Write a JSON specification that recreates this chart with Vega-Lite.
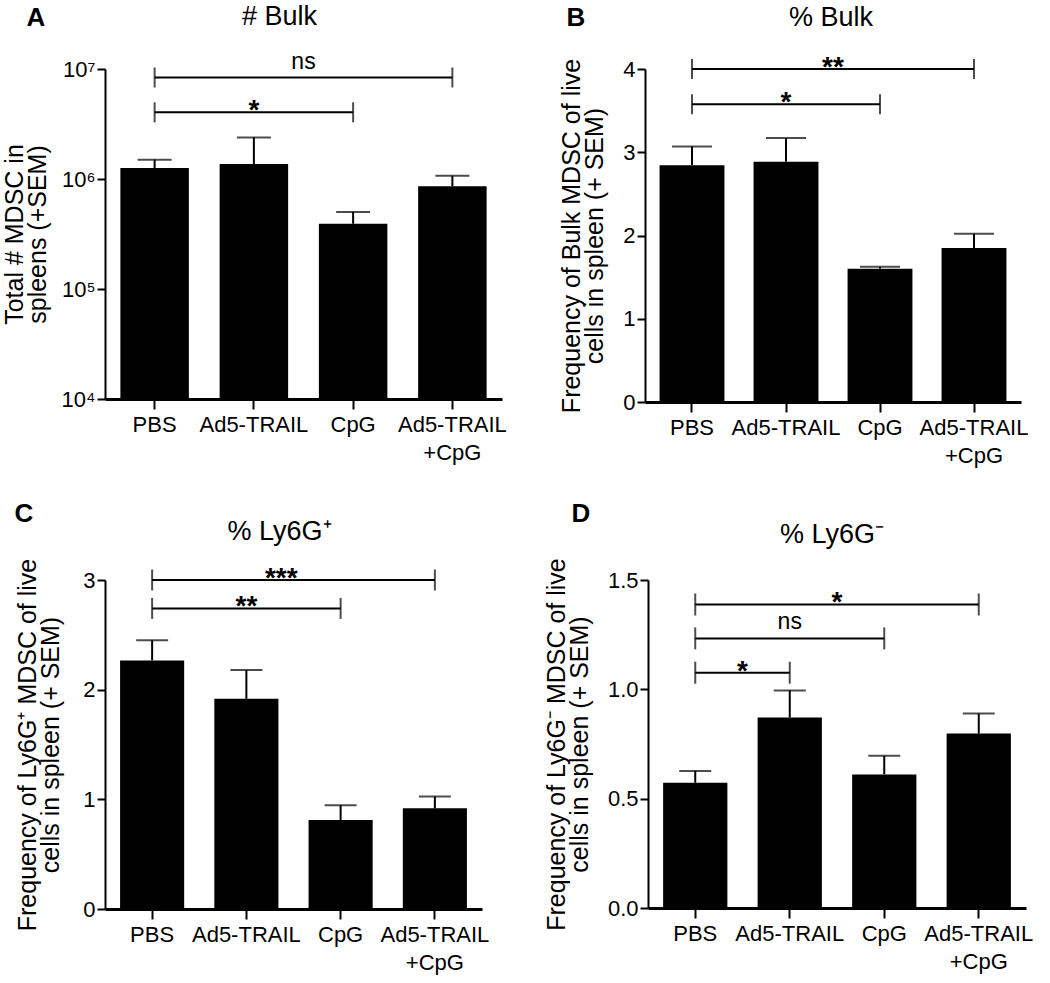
{
  "$schema": "https://vega.github.io/schema/vega-lite/v6.json",
  "padding": {"left": 2, "top": 3, "right": 2, "bottom": 2},
  "background": "white",
  "config": {
    "font": "Liberation Sans",
    "view": {"stroke": null},
    "axis": {"domain": true, "domainColor": "black", "domainWidth": 2, "tickColor": "black", "tickWidth": 2, "tickSize": 10, "labelColor": "black", "labelFontSize": 22, "labelPadding": 3, "titleColor": "black", "titleFontSize": 25, "titleFontWeight": "normal", "titleLineHeight": 23, "titlePadding": 15, "grid": false, "labelOverlap": false},
    "axisX": {"labelAngle": 0, "labelPadding": 5, "labelLineHeight": 28},
    "axisY": {"tickSize": 8, "labelPadding": 2},
    "title": {"fontSize": 27, "fontWeight": "normal", "color": "black", "anchor": "middle", "frame": "group", "baseline": "alphabetic"},
    "tick": {"thickness": 2, "color": "black"},
    "rule": {"strokeWidth": 2, "color": "black"},
    "bar": {"color": "black"},
    "text": {"color": "black"}
  },
  "datasets": {
    "countBulk": [
      {"group": "PBS", "mean": 1260000, "upper": 1500000},
      {"group": "Ad5-TRAIL", "mean": 1370000, "upper": 2390000},
      {"group": "CpG", "mean": 392000, "upper": 502000},
      {"group": "Ad5-TRAIL +CpG", "mean": 860000, "upper": 1070000}
    ],
    "countBulkSig": [
      {"from": 1, "to": 3, "labelAt": 2, "level": 4040000, "label": "*"},
      {"from": 1, "to": 4, "labelAt": 2.5, "level": 8370000, "label": "ns"}
    ],
    "pctBulk": [
      {"group": "PBS", "mean": 2.845, "upper": 3.07},
      {"group": "Ad5-TRAIL", "mean": 2.886, "upper": 3.17},
      {"group": "CpG", "mean": 1.6, "upper": 1.625},
      {"group": "Ad5-TRAIL +CpG", "mean": 1.85, "upper": 2.02}
    ],
    "pctBulkSig": [
      {"from": 1, "to": 3, "labelAt": 2, "level": 3.577, "label": "*"},
      {"from": 1, "to": 4, "labelAt": 2.5, "level": 4.0, "label": "**"}
    ],
    "pctPos": [
      {"group": "PBS", "mean": 2.267, "upper": 2.45},
      {"group": "Ad5-TRAIL", "mean": 1.917, "upper": 2.18},
      {"group": "CpG", "mean": 0.811, "upper": 0.946},
      {"group": "Ad5-TRAIL +CpG", "mean": 0.918, "upper": 1.026}
    ],
    "pctPosSig": [
      {"from": 1, "to": 3, "labelAt": 2, "level": 2.741, "label": "**"},
      {"from": 1, "to": 4, "labelAt": 2.37, "level": 3.0, "label": "***"}
    ],
    "pctNeg": [
      {"group": "PBS", "mean": 0.573, "upper": 0.627},
      {"group": "Ad5-TRAIL", "mean": 0.871, "upper": 0.995},
      {"group": "CpG", "mean": 0.611, "upper": 0.696},
      {"group": "Ad5-TRAIL +CpG", "mean": 0.798, "upper": 0.889}
    ],
    "pctNegSig": [
      {"from": 1, "to": 2, "labelAt": 1.5, "level": 1.076, "label": "*"},
      {"from": 1, "to": 3, "labelAt": 2, "level": 1.233, "label": "ns"},
      {"from": 1, "to": 4, "labelAt": 2.5, "level": 1.388, "label": "*"}
    ]
  },
  "spacing": 34,
  "vconcat": [
    {
      "spacing": 52,
      "hconcat": [
        {
          "width": 397, "height": 330,
          "title": {"text": "# Bulk", "dx": -24, "offset": -27},
          "resolve": {"scale": {"x": "independent"}, "axis": {"x": "independent"}},
          "layer": [
            {
              "data": {"name": "countBulk"},
              "layer": [
                {"mark": "bar", "encoding": {
                  "x": {"field": "group", "type": "nominal", "sort": null, "scale": {"paddingInner": 0.31, "paddingOuter": 0.155}, "axis": {"title": null, "labelExpr": "split(datum.label, ' ')", "domain": true, "domainColor": "#000000", "domainWidth": 3, "zindex": 3}},
                  "y": {"field": "mean", "type": "quantitative", "scale": {"type": "log", "domain": [10000, 10000000], "nice": false}, "axis": {"title": ["Total # MDSC in", "spleens (+SEM)"], "titlePadding": 11, "values": [10000, 100000, 1000000, 10000000], "labelExpr": "'10' + ['⁰','¹','²','³','⁴','⁵','⁶','⁷'][round(log(datum.value)/LN10)]"}},
                  "y2": {"datum": 10000}
                }},
                {"mark": "rule", "encoding": {
                  "x": {"field": "group", "type": "nominal", "sort": null},
                  "y": {"field": "mean", "type": "quantitative"},
                  "y2": {"field": "upper"}
                }},
                {"mark": {"type": "tick", "orient": "horizontal", "size": 34}, "encoding": {
                  "x": {"field": "group", "type": "nominal", "sort": null},
                  "y": {"field": "upper", "type": "quantitative"}
                }}
              ]
            },
            {
              "data": {"name": "countBulkSig"},
              "layer": [
                {"mark": "rule", "encoding": {
                  "x": {"field": "from", "type": "quantitative", "scale": {"domain": [0.5, 4.5], "nice": false, "zero": false}, "axis": {"orient": "top", "domain": false, "ticks": false, "labels": false, "title": "A", "titleFontSize": 26, "titleFontWeight": "bold", "titleAlign": "left", "titleBaseline": "alphabetic", "titleAngle": 0, "titleX": -79, "titleY": -44}},
                  "x2": {"field": "to"},
                  "y": {"field": "level", "type": "quantitative"}
                }},
                {"mark": {"type": "tick", "orient": "vertical", "size": 20}, "encoding": {
                  "x": {"field": "from", "type": "quantitative"},
                  "y": {"field": "level", "type": "quantitative"}
                }},
                {"mark": {"type": "tick", "orient": "vertical", "size": 20}, "encoding": {
                  "x": {"field": "to", "type": "quantitative"},
                  "y": {"field": "level", "type": "quantitative"}
                }},
                {"transform": [{"filter": "datum.label == 'ns'"}], "mark": {"type": "text", "fontSize": 23, "baseline": "alphabetic", "dy": -9}, "encoding": {
                  "x": {"field": "labelAt", "type": "quantitative"},
                  "y": {"field": "level", "type": "quantitative"},
                  "text": {"field": "label"}
                }},
                {"transform": [{"filter": "datum.label != 'ns'"}], "mark": {"type": "text", "fontSize": 28, "fontWeight": "bold", "baseline": "alphabetic", "dy": 7}, "encoding": {
                  "x": {"field": "labelAt", "type": "quantitative"},
                  "y": {"field": "level", "type": "quantitative"},
                  "text": {"field": "label"}
                }}
              ]
            }
          ]
        },
        {
          "width": 376, "height": 333,
          "title": {"text": "% Bulk", "dx": -2, "offset": -28},
          "resolve": {"scale": {"x": "independent"}, "axis": {"x": "independent"}},
          "layer": [
            {
              "data": {"name": "pctBulk"},
              "layer": [
                {"mark": "bar", "encoding": {
                  "x": {"field": "group", "type": "nominal", "sort": null, "scale": {"paddingInner": 0.31, "paddingOuter": 0.155}, "axis": {"title": null, "labelExpr": "split(datum.label, ' ')", "domain": true, "domainColor": "#000000", "domainWidth": 3, "zindex": 3}},
                  "y": {"field": "mean", "type": "quantitative", "scale": {"domain": [0, 4], "nice": false}, "axis": {"title": ["Frequency of Bulk MDSC of live", "cells in spleen (+ SEM)"], "values": [0, 1, 2, 3, 4], "format": "d"}}
                }},
                {"mark": "rule", "encoding": {
                  "x": {"field": "group", "type": "nominal", "sort": null},
                  "y": {"field": "mean", "type": "quantitative"},
                  "y2": {"field": "upper"}
                }},
                {"mark": {"type": "tick", "orient": "horizontal", "size": 40}, "encoding": {
                  "x": {"field": "group", "type": "nominal", "sort": null},
                  "y": {"field": "upper", "type": "quantitative"}
                }}
              ]
            },
            {
              "data": {"name": "pctBulkSig"},
              "layer": [
                {"mark": "rule", "encoding": {
                  "x": {"field": "from", "type": "quantitative", "scale": {"domain": [0.5, 4.5], "nice": false, "zero": false}, "axis": {"orient": "top", "domain": false, "ticks": false, "labels": false, "title": "B", "titleFontSize": 26, "titleFontWeight": "bold", "titleAlign": "left", "titleBaseline": "alphabetic", "titleAngle": 0, "titleX": -79, "titleY": -44}},
                  "x2": {"field": "to"},
                  "y": {"field": "level", "type": "quantitative"}
                }},
                {"mark": {"type": "tick", "orient": "vertical", "size": 20}, "encoding": {
                  "x": {"field": "from", "type": "quantitative"},
                  "y": {"field": "level", "type": "quantitative"}
                }},
                {"mark": {"type": "tick", "orient": "vertical", "size": 20}, "encoding": {
                  "x": {"field": "to", "type": "quantitative"},
                  "y": {"field": "level", "type": "quantitative"}
                }},
                {"transform": [{"filter": "datum.label == 'ns'"}], "mark": {"type": "text", "fontSize": 23, "baseline": "alphabetic", "dy": -9}, "encoding": {
                  "x": {"field": "labelAt", "type": "quantitative"},
                  "y": {"field": "level", "type": "quantitative"},
                  "text": {"field": "label"}
                }},
                {"transform": [{"filter": "datum.label != 'ns'"}], "mark": {"type": "text", "fontSize": 28, "fontWeight": "bold", "baseline": "alphabetic", "dy": 7}, "encoding": {
                  "x": {"field": "labelAt", "type": "quantitative"},
                  "y": {"field": "level", "type": "quantitative"},
                  "text": {"field": "label"}
                }}
              ]
            }
          ]
        }
      ]
    },
    {
      "spacing": 55,
      "hconcat": [
        {
          "width": 377, "height": 329,
          "title": {"text": "% Ly6G⁺", "dx": -14, "offset": -46},
          "resolve": {"scale": {"x": "independent"}, "axis": {"x": "independent"}},
          "layer": [
            {
              "data": {"name": "pctPos"},
              "layer": [
                {"mark": "bar", "encoding": {
                  "x": {"field": "group", "type": "nominal", "sort": null, "scale": {"paddingInner": 0.32, "paddingOuter": 0.16}, "axis": {"title": null, "labelExpr": "split(datum.label, ' ')", "domain": true, "domainColor": "#000000", "domainWidth": 3, "zindex": 3}},
                  "y": {"field": "mean", "type": "quantitative", "scale": {"domain": [0, 3], "nice": false}, "axis": {"title": ["Frequency of Ly6G⁺ MDSC of live", "cells in spleen (+ SEM)"], "values": [0, 1, 2, 3], "format": "d", "titlePadding": 19}}
                }},
                {"mark": "rule", "encoding": {
                  "x": {"field": "group", "type": "nominal", "sort": null},
                  "y": {"field": "mean", "type": "quantitative"},
                  "y2": {"field": "upper"}
                }},
                {"mark": {"type": "tick", "orient": "horizontal", "size": 32}, "encoding": {
                  "x": {"field": "group", "type": "nominal", "sort": null},
                  "y": {"field": "upper", "type": "quantitative"}
                }}
              ]
            },
            {
              "data": {"name": "pctPosSig"},
              "layer": [
                {"mark": "rule", "encoding": {
                  "x": {"field": "from", "type": "quantitative", "scale": {"domain": [0.5, 4.5], "nice": false, "zero": false}, "axis": {"orient": "top", "domain": false, "ticks": false, "labels": false, "title": "C", "titleFontSize": 26, "titleFontWeight": "bold", "titleAlign": "left", "titleBaseline": "alphabetic", "titleAngle": 0, "titleX": -91, "titleY": -59}},
                  "x2": {"field": "to"},
                  "y": {"field": "level", "type": "quantitative"}
                }},
                {"mark": {"type": "tick", "orient": "vertical", "size": 21}, "encoding": {
                  "x": {"field": "from", "type": "quantitative"},
                  "y": {"field": "level", "type": "quantitative"}
                }},
                {"mark": {"type": "tick", "orient": "vertical", "size": 21}, "encoding": {
                  "x": {"field": "to", "type": "quantitative"},
                  "y": {"field": "level", "type": "quantitative"}
                }},
                {"transform": [{"filter": "datum.label == 'ns'"}], "mark": {"type": "text", "fontSize": 23, "baseline": "alphabetic", "dy": -9}, "encoding": {
                  "x": {"field": "labelAt", "type": "quantitative"},
                  "y": {"field": "level", "type": "quantitative"},
                  "text": {"field": "label"}
                }},
                {"transform": [{"filter": "datum.label != 'ns'"}], "mark": {"type": "text", "fontSize": 28, "fontWeight": "bold", "baseline": "alphabetic", "dy": 7}, "encoding": {
                  "x": {"field": "labelAt", "type": "quantitative"},
                  "y": {"field": "level", "type": "quantitative"},
                  "text": {"field": "label"}
                }}
              ]
            }
          ]
        },
        {
          "width": 378, "height": 328,
          "title": {"text": "% Ly6G⁻", "dx": -5, "offset": -49},
          "resolve": {"scale": {"x": "independent"}, "axis": {"x": "independent"}},
          "layer": [
            {
              "data": {"name": "pctNeg"},
              "layer": [
                {"mark": "bar", "encoding": {
                  "x": {"field": "group", "type": "nominal", "sort": null, "scale": {"paddingInner": 0.32, "paddingOuter": 0.16}, "axis": {"title": null, "labelExpr": "split(datum.label, ' ')", "domain": true, "domainColor": "#000000", "domainWidth": 3, "zindex": 3}},
                  "y": {"field": "mean", "type": "quantitative", "scale": {"domain": [0, 1.5], "nice": false}, "axis": {"title": ["Frequency of Ly6G⁻ MDSC of live", "cells in spleen (+ SEM)"], "values": [0, 0.5, 1, 1.5], "format": ".1f"}}
                }},
                {"mark": "rule", "encoding": {
                  "x": {"field": "group", "type": "nominal", "sort": null},
                  "y": {"field": "mean", "type": "quantitative"},
                  "y2": {"field": "upper"}
                }},
                {"mark": {"type": "tick", "orient": "horizontal", "size": 32}, "encoding": {
                  "x": {"field": "group", "type": "nominal", "sort": null},
                  "y": {"field": "upper", "type": "quantitative"}
                }}
              ]
            },
            {
              "data": {"name": "pctNegSig"},
              "layer": [
                {"mark": "rule", "encoding": {
                  "x": {"field": "from", "type": "quantitative", "scale": {"domain": [0.5, 4.5], "nice": false, "zero": false}, "axis": {"orient": "top", "domain": false, "ticks": false, "labels": false, "title": "D", "titleFontSize": 26, "titleFontWeight": "bold", "titleAlign": "left", "titleBaseline": "alphabetic", "titleAngle": 0, "titleX": -77, "titleY": -59}},
                  "x2": {"field": "to"},
                  "y": {"field": "level", "type": "quantitative"}
                }},
                {"mark": {"type": "tick", "orient": "vertical", "size": 22}, "encoding": {
                  "x": {"field": "from", "type": "quantitative"},
                  "y": {"field": "level", "type": "quantitative"}
                }},
                {"mark": {"type": "tick", "orient": "vertical", "size": 22}, "encoding": {
                  "x": {"field": "to", "type": "quantitative"},
                  "y": {"field": "level", "type": "quantitative"}
                }},
                {"transform": [{"filter": "datum.label == 'ns'"}], "mark": {"type": "text", "fontSize": 23, "baseline": "alphabetic", "dy": -9}, "encoding": {
                  "x": {"field": "labelAt", "type": "quantitative"},
                  "y": {"field": "level", "type": "quantitative"},
                  "text": {"field": "label"}
                }},
                {"transform": [{"filter": "datum.label != 'ns'"}], "mark": {"type": "text", "fontSize": 28, "fontWeight": "bold", "baseline": "alphabetic", "dy": 7}, "encoding": {
                  "x": {"field": "labelAt", "type": "quantitative"},
                  "y": {"field": "level", "type": "quantitative"},
                  "text": {"field": "label"}
                }}
              ]
            }
          ]
        }
      ]
    }
  ]
}
